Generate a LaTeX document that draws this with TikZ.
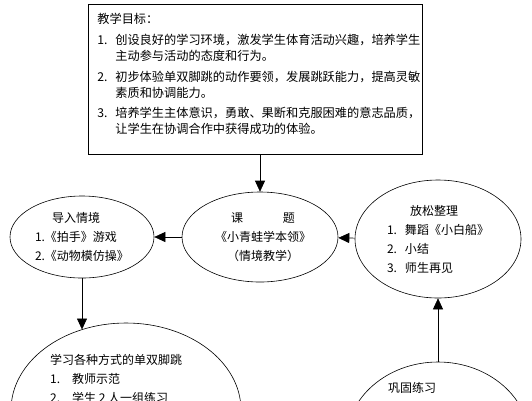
\documentclass[tikz,border=0pt]{standalone}
\usepackage{fontspec}
\setmainfont{Noto Sans CJK SC}
\usetikzlibrary{arrows.meta,shapes.geometric}

\begin{document}
\begin{tikzpicture}[x=1pt,y=-1pt,>={Triangle[length=11pt,width=10pt]},
  box/.style={draw,line width=0.7pt,align=left,inner xsep=9pt,font=\fontsize{12.2pt}{16pt}\selectfont},
  ell/.style={draw,ellipse,line width=0.6pt,inner sep=0pt,font=\fontsize{12pt}{19pt}\selectfont},
  txt/.style={inner sep=0pt,align=left,font=\fontsize{12pt}{19pt}\selectfont},
  arr/.style={->,line width=0.6pt}]
\useasboundingbox (0,0) rectangle (532,400);
\node[box,anchor=north west,text width=316pt,minimum height=150pt] (goal) at (88,4)
  {教学目标：\\[5pt]
   \makebox[18pt][l]{1.}创设良好的学习环境，激发学生体育活动兴趣，培养学生\\
   \hspace*{18pt}主动参与活动的态度和行为。\\[4.5pt]
   \makebox[18pt][l]{2.}初步体验单双脚跳的动作要领，发展跳跃能力，提高灵敏\\
   \hspace*{18pt}素质和协调能力。\\[4pt]
   \makebox[18pt][l]{3.}培养学生主体意识，勇敢、果断和克服困难的意志品质，\\
   \hspace*{18pt}让学生在协调合作中获得成功的体验。\\[-4pt]\mbox{}};
\node[ell,align=center,minimum width=156pt,minimum height=90pt] (ctr) at (260,237)
  {\hspace*{6pt}课\hspace{3.3em}题\\\hspace*{6pt}《小青蛙学本领》\\\hspace*{6pt}（情境教学）};
\node[ell,align=left,minimum width=144pt,minimum height=82pt] (left) at (82,237)
  {\hspace*{17pt}导入情境\\1.《拍手》游戏\\2.《动物模仿操》};
\node[ell,align=left,minimum width=166pt,minimum height=118pt] (right) at (438,239)
  {\hspace*{23pt}放松整理\\\makebox[18pt][l]{1.}舞蹈《小白船》\\\makebox[18pt][l]{2.}小结\\\makebox[18pt][l]{3.}师生再见};
\node[ell,minimum width=230pt,minimum height=174pt] (bl) at (126,410) {};
\node[txt,anchor=north west] (bltext) at (50,354)
  {学习各种方式的单双脚跳\\\makebox[22pt][l]{1.}教师示范\\\makebox[22pt][l]{2.}学生 2 人一组练习};
\node[ell,minimum width=184pt,minimum height=160pt] (br) at (438,442) {};
\node[txt,anchor=north west] (brtext) at (388,382) {巩固练习};
\draw[arr] (goal.south -| ctr) -- (ctr);
\draw[arr] (ctr) -- (left);
\draw[arr] (right) -- (ctr);
\draw[arr] (left.south) -- (left.south |- bl.119);
\draw[arr] (br) -- (right);
\end{tikzpicture}
\end{document}
